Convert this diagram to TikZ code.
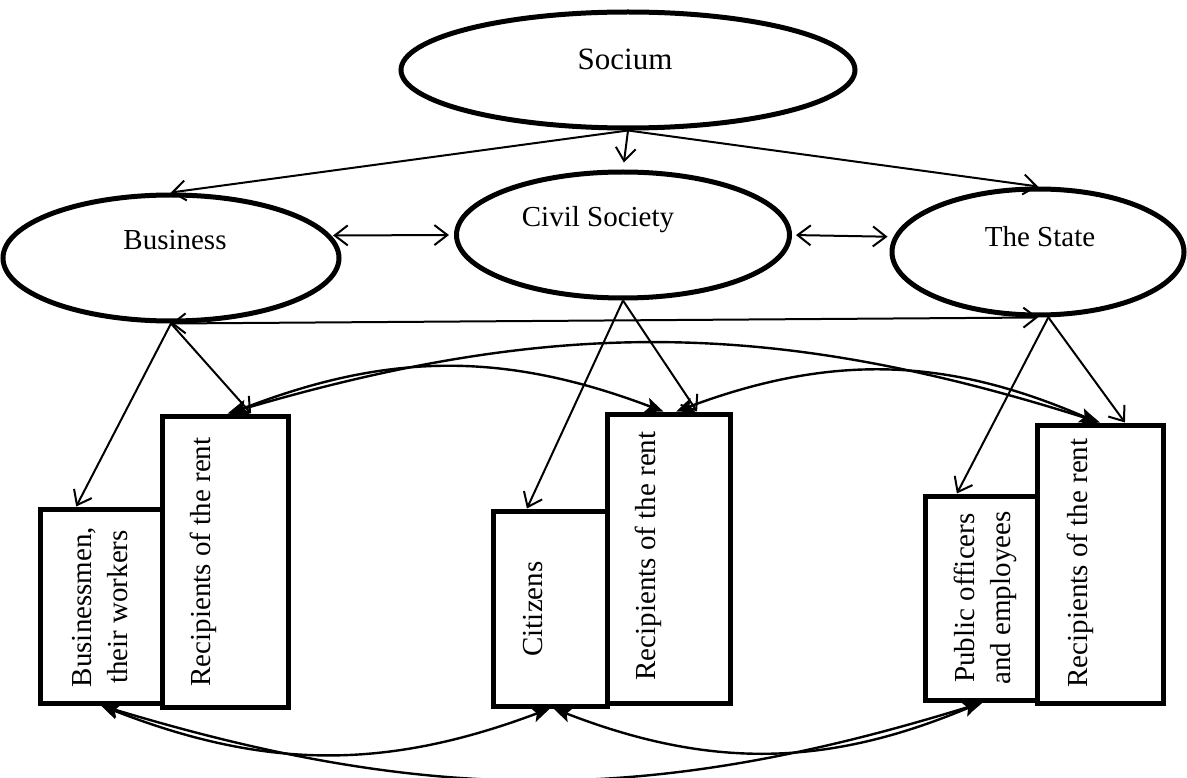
\documentclass[tikz,border=0pt]{standalone}
\usepackage{fontspec}
\setmainfont{Liberation Serif}
\usetikzlibrary{shapes.geometric,arrows.meta}
\pgfdeclarelayer{bg}
\pgfsetlayers{bg,main}

\begin{document}
\begin{tikzpicture}[x=1pt,y=-1pt,
        font=\fontsize{29}{36}\selectfont,
        oval/.style={draw,ellipse,line width=5pt,inner sep=0pt},
        cell/.style={draw,rectangle,line width=5pt,inner sep=0pt},
        title/.style={anchor=base,inner sep=0pt},
        caption/.style={rotate=90,align=center,inner sep=0pt},
        flow/.style={line width=2pt,-{Straight Barb[length=13pt,width=20pt]}},
        mutual/.style={line width=2pt,{Straight Barb[length=13pt,width=20pt]}-{Straight Barb[length=13pt,width=20pt]}},
        rent/.style={line width=2.4pt,{Stealth[length=18pt,width=15pt,inset=4pt]}-{Stealth[length=18pt,width=15pt,inset=4pt]}}]
        \useasboundingbox (0,0) rectangle (1187,778);
        % spheres
        \node (soc) [oval,minimum width=454,minimum height=116] at (628,70) {};
        \node (bus) [oval,minimum width=336,minimum height=126] at (171,258) {};
        \node (civ) [oval,minimum width=333,minimum height=126] at (623,235) {};
        \node (state) [oval,minimum width=292,minimum height=126] at (1038,252) {};
        \node (soct) [title,font=\fontsize{31}{36}\selectfont] at (625,70) {Socium};
        \node (bust) [title] at (175,250) {Business};
        \node (civt) [title] at (598,227) {Civil Society};
        \node (statet) [title] at (1040,247) {The State};
        % groups
        \node (bm) [cell,minimum width=122,minimum height=194] at (101,606) {};
        \node (r1) [cell,minimum width=126,minimum height=291] at (225,561.5) {};
        \node (cit) [cell,minimum width=114,minimum height=195] at (550,608.5) {};
        \node (r2) [cell,minimum width=123,minimum height=289] at (668.5,558.5) {};
        \node (pub) [cell,minimum width=112,minimum height=204] at (981,598) {};
        \node (r3) [cell,minimum width=126,minimum height=278] at (1100,564) {};
        \node (bmt) [caption] at (100,607) {Businessmen,\\their workers};
        \node (r1t) [caption] at (203,562) {Recipients of the rent};
        \node (citt) [caption] at (533,609) {Citizens};
        \node (r2t) [caption] at (648,556) {Recipients of the rent};
        \node (pubt) [caption] at (985,598) {Public officers\\and employees};
        \node (r3t) [caption] at (1080,563) {Recipients of the rent};
        \begin{pgfonlayer}{bg}
                \draw (soc.south) edge [flow] (bus.north);
                \draw (soc.south) edge [flow,shorten >=7pt] (civ.north);
                \draw (soc.south) edge [flow] (state.north);
                \draw (bus.8) edge [mutual,shorten <=2pt,shorten >=5pt] (civ.west);
                \draw (civ.east) edge [mutual,shorten <=4pt,shorten >=6pt] (state.174);
                \draw (bus.south) edge [mutual] (state.south);
                \draw (bus.south) edge [flow] (bm.104);
                \draw (bus.south) edge [flow] (r1.80);
                \draw (civ.south) edge [flow] (cit.103);
                \draw (civ.south) edge [flow] (r2.79);
                \draw (state.279) edge [flow] (pub.103);
                \draw (state.279) edge [flow] (r3.80);
                \draw (r1.88) edge [rent,bend left=21] (r2.92);
                \draw (r2.87) edge [rent,bend left=22] (r3.91);
                \draw (r1.89) edge [rent,bend left=17] (r3.90);
                \draw (bm.south) edge [rent,bend right=21] (cit.south);
                \draw (cit.272) edge [rent,bend right=22] (pub.south);
                \draw (bm.south) edge [rent,bend right=17] (pub.271);
        \end{pgfonlayer}
\end{tikzpicture}
\end{document}
